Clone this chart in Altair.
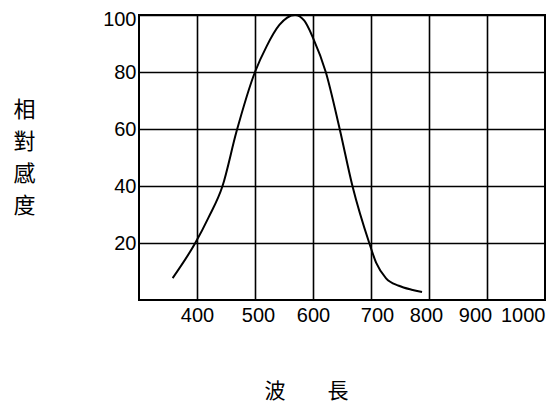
import altair as alt
import pandas as pd

wavelength = [358, 397, 420, 444, 468, 500, 520, 542, 569, 585, 600, 622, 646, 668, 697, 709, 726, 748, 770, 788]
sensitivity = [7.7, 20, 29, 40, 59, 80, 89, 96.5, 100, 98, 92, 80, 60, 40, 20, 13, 7.6, 5, 3.6, 2.8]
x_ticks = [400, 500, 600, 700, 800, 900, 1000]
y_ticks = [20, 40, 60, 80, 100]

df = pd.DataFrame({"wl": wavelength, "s": sensitivity})

font = "Liberation Sans"

chart = alt.Chart(df).mark_line(color="black", strokeWidth=2, interpolate="monotone").encode(
    x=alt.X("wl:Q", scale=alt.Scale(domain=[300, 1000], nice=False, zero=False),
            axis=alt.Axis(values=x_ticks, format="d", labelOverlap=False, title="波　　長",
                          grid=True, gridColor="black",
                          gridWidth=1.6, gridOpacity=1, domain=False, ticks=False,
                          labelFont=font, labelFontSize=20, labelColor="black", labelPadding=5,
                          labelFlush=True,
                          labelOffset=alt.ExprRef("datum.value == 900 ? -12 : datum.value == 700 ? 6 : datum.value == 500 ? 3 : datum.value == 800 ? -3 : 0"),
                          titleFont="Noto Sans CJK TC", titleFontSize=21, titleFontWeight="normal",
                          titleColor="black", titleX=167, titleY=80, titleBaseline="top",
                          titleAlign="center")),
    y=alt.Y("s:Q", scale=alt.Scale(domain=[0, 100], nice=False),
            axis=alt.Axis(values=y_ticks, format="d", labelOverlap=False, title=["相", "對", "感", "度"],
                          grid=True, gridColor="black",
                          gridWidth=1.6, gridOpacity=1, domain=False, ticks=False,
                          labelFont=font, labelFontSize=20, labelColor="black", labelPadding=3,
                          labelFlush=True, labelFlushOffset=6,
                          titleFont="Noto Sans CJK TC", titleFontSize=22, titleFontWeight="normal",
                          titleColor="black", titleAngle=0, titleX=-115, titleY=84,
                          titleBaseline="top", titleAlign="center", titleLineHeight=32)),
).properties(
    width=406, height=285,
    autosize=alt.AutoSizeParams(type="none"),
    padding={"left": 131, "top": 7, "right": 1, "bottom": 106},
).configure(
    background="white",
    view=alt.ViewConfig(stroke="black", strokeWidth=2),
)

chart.save("out.html", embed_options={"renderer": "svg", "actions": False})
